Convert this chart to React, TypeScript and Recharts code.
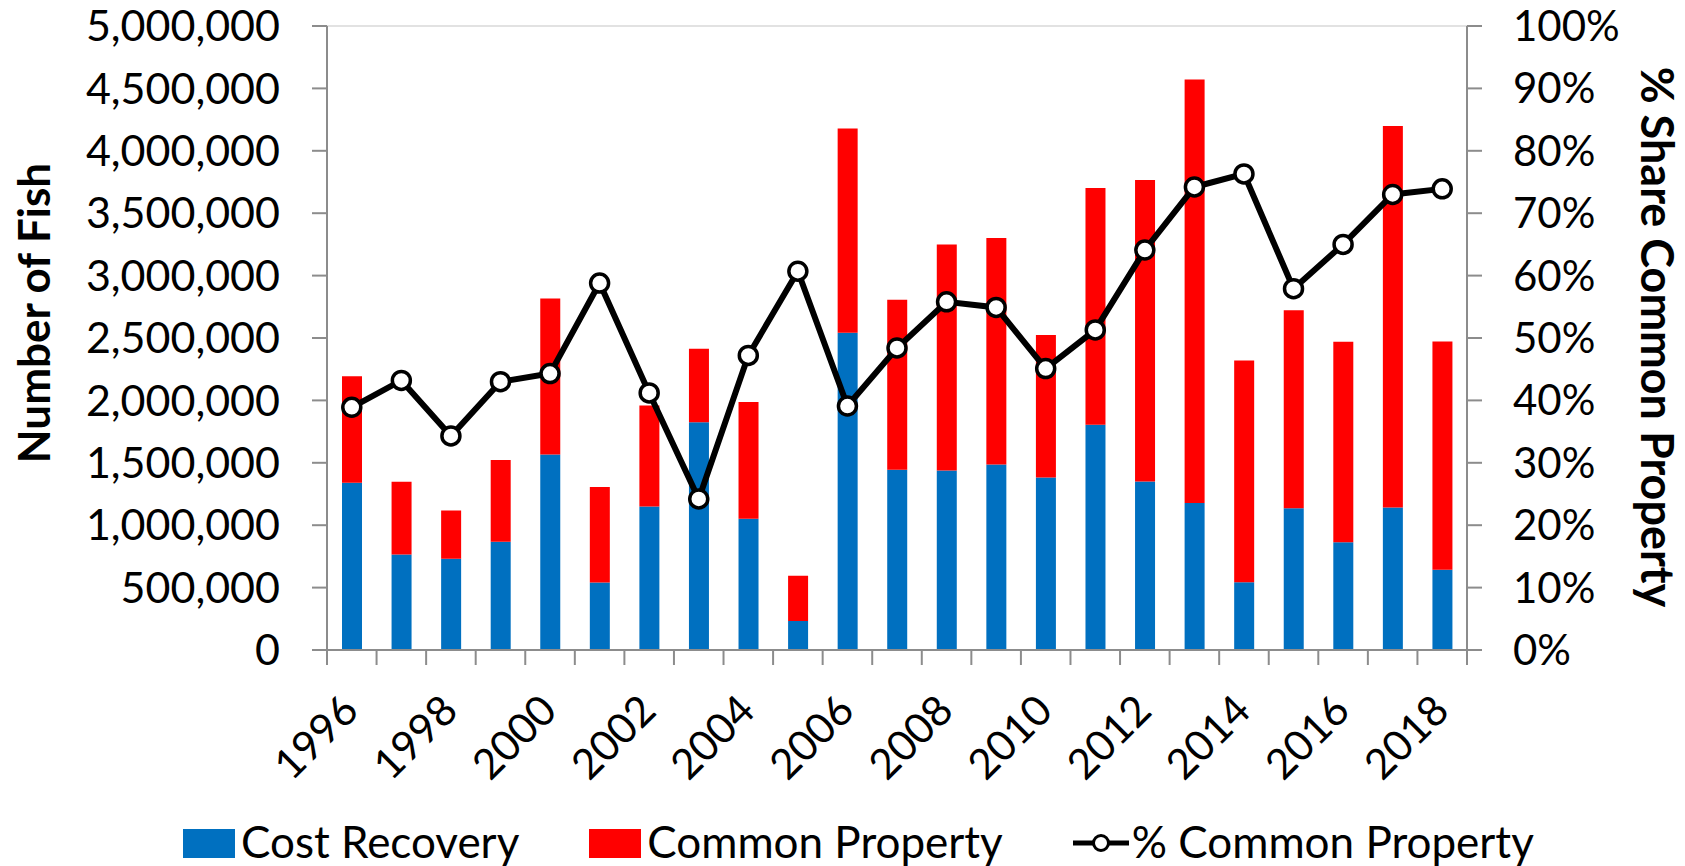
import { ComposedChart, Bar, Line, XAxis, YAxis, CartesianGrid } from "recharts";

const YEARS = [
  "1996", "1997", "1998", "1999", "2000", "2001", "2002", "2003", "2004", "2005", "2006", "2007",
  "2008", "2009", "2010", "2011", "2012", "2013", "2014", "2015", "2016", "2017", "2018",
];
const COST_RECOVERY = [
  1340000, 766000, 731000, 867000, 1567000, 540000, 1149000, 1825000, 1052000, 233000, 2542000, 1445000,
  1438000, 1487000, 1382000, 1804000, 1351000, 1177000, 543000, 1135000, 864000, 1142000, 644000,
];
const COMMON_PROPERTY = [
  853000, 582000, 387000, 655000, 1250000, 766000, 811000, 588000, 936000, 362000, 1636000, 1361000,
  1811000, 1814000, 1142000, 1897000, 2416000, 3395000, 1776000, 1588000, 1605000, 3057000, 1828000,
];
const PCT_COMMON = [
  38.9, 43.2, 34.3, 43.0, 44.3, 58.8, 41.2, 24.2, 47.2, 60.7, 39.1, 48.4,
  55.8, 54.9, 45.1, 51.3, 64.1, 74.2, 76.3, 57.9, 65.0, 73.0, 73.9,
];
const FISH_TICKS = [0, 500000, 1000000, 1500000, 2000000, 2500000, 3000000, 3500000, 4000000, 4500000, 5000000];
const PCT_TICKS = [0, 10, 20, 30, 40, 50, 60, 70, 80, 90, 100];

const BLUE = "#0070c0";
const RED = "#ff0000";
const AXIS = "#8c8c8c";
const FONT = "Lato, 'Open Sans', sans-serif";

// plot box (px) inside the 1685x866 svg
const W = 1685;
const H = 866;
const PLOT_L = 327;
const PLOT_R = 1467;
const PLOT_T = 26;
const PLOT_B = 650;
const BAND = (PLOT_R - PLOT_L) / YEARS.length;

const data = YEARS.map((year, i) => ({
  year,
  cost: COST_RECOVERY[i],
  common: COMMON_PROPERTY[i],
  pct: PCT_COMMON[i],
}));

function YearTick({ x, y, payload, index }: any) {
  const last = index === YEARS.length - 1;
  return (
    <g>
      <line x1={x - BAND / 2} x2={x - BAND / 2} y1={y} y2={y + 15} stroke={AXIS} strokeWidth={2} />
      {last && <line x1={x + BAND / 2} x2={x + BAND / 2} y1={y} y2={y + 15} stroke={AXIS} strokeWidth={2} />}
      {index % 2 === 0 && (
        <text
          transform={`translate(${x + 9},${y + 63}) rotate(-45)`}
          textAnchor="end"
          fontSize={42}
          fontFamily={FONT}
          fill="#000"
        >
          {payload.value}
        </text>
      )}
    </g>
  );
}

function LeftTitle() {
  return (
    <text
      transform={`translate(50,313) rotate(-90)`}
      textAnchor="middle"
      fontSize={44}
      fontWeight={700}
      fontFamily={FONT}
      fill="#000"
    >
      Number of Fish
    </text>
  );
}

function RightTitle() {
  return (
    <text
      transform={`translate(1641,337) rotate(90)`}
      textAnchor="middle"
      fontSize={45}
      fontWeight={700}
      fontFamily={FONT}
      fill="#000"
    >
      % Share Common Property
    </text>
  );
}

function LegendRow() {
  const txt = { fontSize: 44, fontFamily: FONT, color: "#000", lineHeight: "44px", whiteSpace: "nowrap" as const };
  return (
    <div style={{ position: "absolute", left: 183, top: 819, display: "flex", alignItems: "flex-end", height: 44 }}>
      <span style={{ width: 52, height: 29, background: BLUE, marginRight: 6, marginBottom: 5 }} />
      <span style={txt}>Cost Recovery</span>
      <span style={{ width: 52, height: 29, background: RED, marginLeft: 70, marginRight: 6, marginBottom: 5 }} />
      <span style={txt}>Common Property</span>
      <svg width={56} height={22} style={{ marginLeft: 70, marginRight: 3, marginBottom: 9 }}>
        <line x1={0} x2={56} y1={11} y2={11} stroke="#000" strokeWidth={5} />
        <circle cx={28} cy={11} r={7.5} fill="#fff" stroke="#000" strokeWidth={3} />
      </svg>
      <span style={txt}>% Common Property</span>
    </div>
  );
}

export default function App() {
  return (
    <div style={{ position: "absolute", left: 0, top: 0, width: W, height: H, background: "#fff" }}>
      <ComposedChart
        width={W}
        height={H}
        data={data}
        margin={{ top: PLOT_T, right: 0, bottom: 50, left: 0 }}
        barSize={20}
      >
        <CartesianGrid horizontal vertical={false} stroke="#d9d9d9" strokeWidth={1.5} />
        <XAxis
          dataKey="year"
          height={PLOT_B - PLOT_T - 624 + 166}
          interval={0}
          tickLine={false}
          tickSize={0}
          tickMargin={0}
          axisLine={{ stroke: AXIS, strokeWidth: 2 }}
          tick={<YearTick />}
        />
        <YAxis
          yAxisId="fish"
          width={PLOT_L}
          domain={[0, 5000000]}
          ticks={FISH_TICKS}
          interval={0}
          tickSize={15}
          tickMargin={32}
          axisLine={{ stroke: AXIS, strokeWidth: 2 }}
          tickLine={{ stroke: AXIS, strokeWidth: 2 }}
          tick={{ fill: "#000", fontSize: 43, fontFamily: FONT }}
          tickFormatter={(v: number) => v.toLocaleString("en-US")}
          label={<LeftTitle />}
        />
        <YAxis
          yAxisId="pct"
          orientation="right"
          width={W - PLOT_R}
          domain={[0, 100]}
          ticks={PCT_TICKS}
          interval={0}
          tickSize={15}
          tickMargin={31}
          axisLine={{ stroke: AXIS, strokeWidth: 2 }}
          tickLine={{ stroke: AXIS, strokeWidth: 2 }}
          tick={{ fill: "#000", fontSize: 42, fontFamily: FONT, textAnchor: "start" }}
          tickFormatter={(v: number) => `${v}%`}
          label={<RightTitle />}
        />
        <Bar yAxisId="fish" dataKey="cost" name="Cost Recovery" stackId="s" fill={BLUE} isAnimationActive={false} />
        <Bar yAxisId="fish" dataKey="common" name="Common Property" stackId="s" fill={RED} isAnimationActive={false} />
        <Line
          yAxisId="pct"
          type="linear"
          dataKey="pct"
          name="% Common Property"
          stroke="#000"
          strokeWidth={6}
          dot={{ r: 9, fill: "#fff", stroke: "#000", strokeWidth: 3.5 }}
          isAnimationActive={false}
        />
      </ComposedChart>
      <LegendRow />
    </div>
  );
}
